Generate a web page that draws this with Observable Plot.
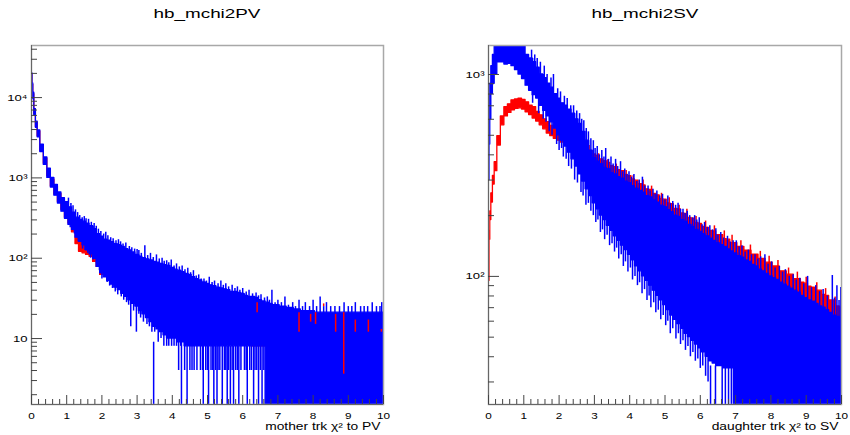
<!DOCTYPE html>
<html><head><meta charset="utf-8">
<script src="https://cdn.jsdelivr.net/npm/d3@7"></script>
<script src="https://cdn.jsdelivr.net/npm/@observablehq/plot@0.6"></script>
<style>
body{margin:0;background:#fff;}
#wrap{position:relative;width:850px;height:435px;font-family:"Liberation Sans",Arial,Helvetica,sans-serif;overflow:hidden;}
.panel{position:absolute;top:0;}
.title{position:absolute;top:7px;font-size:13px;line-height:13px;white-space:nowrap;transform:translateX(-50%) scaleX(1.45);color:#000;}
</style></head><body>
<div id="wrap">
  <div class="panel" id="p1" style="left:0"></div>
  <div class="panel" id="p2" style="left:425px"></div>
  <div class="title" id="t1" style="left:207px"></div>
  <div class="title" id="t2" style="left:645px"></div>
</div>
<script>
// ---------- texts ----------
const titles = ["hb_mchi2PV", "hb_mchi2SV"];
const xTitles = ["mother trk \u03c7\u00b2 to PV", "daughter trk \u03c7\u00b2 to SV"];
const xTicks = [0,1,2,3,4,5,6,7,8,9,10];
const leftYTicks = [10, 100, 1000, 10000];
const leftYLabels = ["10", "10\u00b2", "10\u00b3", "10\u2074"];
const leftYMinor = [2,3,4,5,6,7,8,9,20,30,40,50,60,70,80,90,200,300,400,500,600,700,800,900,2000,3000,4000,5000,6000,7000,8000,9000,20000,30000,40000];
const rightYTicks = [100, 1000];
const rightYLabels = ["10\u00b2", "10\u00b3"];
const rightYMinor = [30,40,50,60,70,80,90,200,300,400,500,600,700,800,900];

// ---------- bin positions ----------
const gridX = [0,0.02,0.04,0.06,0.1,0.15,0.2,
 0.3,0.4,0.5,0.6,0.7,0.8,0.9,1.0,
 1.1,1.2,1.3,1.4,1.5,1.6,1.7,1.8,1.9,2.0,
 2.1,2.2,2.3,2.4,2.5,2.6,2.7,2.8,2.9,3.0,
 3.1,3.2,3.3,3.4,3.5,3.6,3.7,3.8,3.9,4.0,
 4.1,4.2,4.3,4.4,4.5,4.6,4.7,4.8,4.9,5.0,
 5.1,5.2,5.3,5.4,5.5,5.6,5.7,5.8,5.9,6.0,
 6.1,6.2,6.3,6.4,6.5,6.6,6.7,6.8,6.9,7.0,
 7.1,7.2,7.3,7.4,7.5,7.6,7.7,7.8,7.9,8.0,
 8.1,8.2,8.3,8.4,8.5,8.6,8.7,8.8,8.9,9.0,
 9.1,9.2,9.3,9.4,9.5,9.6,9.7,9.8,9.9,10.0];

// ---------- left panel: mother trk chi2 to PV (blue band = local max / min of the bins) ----------
const leftBlueHi = [27000,20000,15000,11500,7200,5000,3900,
 2600,1800,1300,1000,820,660,560,500,
 430,370,320,300,285,270,250,230,200,185,
 170,165,158,150,145,138,130,125,118,110,
 105,100,97,94,90,88,85,82,80,76,
 72,70,67,64,62,58,55,53,50,48,
 46,45,43,42,41,40,38,38,37,36,
 34,33,33,32,30,29,28,27,26,26,
 25,25,24,24,23,23,22,22,22,22,
 21,21,21,21,21,21,21,21,21,21,
 21,21,21,21,21,21,21,21,21,21];
const leftBlueLo = [21000,16000,12000,9500,6000,4200,3200,
 2100,1450,1000,760,600,480,380,310,
 260,225,180,160,145,125,112,98,78,65,
 58,52,47,43,40,36,33,30,27,25,
 22,20,18,16,14,13,12,11,10,10,
 10,9,9,8,8,8,8,8,8,8,
 8,8,8,8,8,8,8,8,8,8,
 8,8,8,8,8,8,1,1,1,1,
 1,1,1,1,1,1,1,1,1,1,
 1,1,1,1,1,1,1,1,1,1,
 1,1,1,1,1,1,1,1,1,1];
// single-bin excursions above / below the band
const leftUpX = [1.05,1.12,1.18,1.25,1.31,1.37,1.44,1.5,1.55,1.62,1.7,1.78,1.84,1.9,1.97,2.05,2.11,2.17,2.25,2.32,2.4,2.47,2.53,2.6,2.68,2.78,2.85,2.93,3.0,3.05,3.12,3.22,3.3,3.38,3.46,3.55,3.63,3.71,3.77,3.84,3.9,3.97,4.05,4.12,4.2,4.28,4.36,4.44,4.52,4.6,4.68,4.75,4.82,4.9,4.97,5.05,5.13,5.2,5.3,5.38,5.45,5.52,5.6,5.7,5.78,5.85,5.92,6.0,6.1,6.18,6.28,6.38,6.45,6.52,6.62,6.7,6.76,6.83,6.92,7.0,7.1,7.2,7.3,7.42,7.5,7.6,7.7,7.78,7.9,8.0,8.1,8.2,8.3,8.38,8.5,8.62,8.75,8.88,9.0,9.1,9.2,9.35,9.45,9.55,9.68,9.8,9.9,9.95];
const leftUpY = [560,480,450,400,370,340,320,330,310,305,280,270,250,230,215,200,210,190,180,175,165,170,160,150,155,140,135,130,128,125,115,143,108,115,102,110,98,100,92,93,88,95,80,85,78,80,72,75,66,70,60,62,55,55,52,58,50,52,48,52,46,48,44,46,42,44,40,42,38,40,36,37,34,35,32,33,30,40,28,30,28,33,26,28,25,30,25,28,25,30,25,33,25,28,25,25,25,28,25,25,28,25,25,25,28,25,25,28];
const leftDownX = [1.1,1.22,1.33,1.45,1.52,1.6,1.68,1.75,1.85,1.93,2.0,2.08,2.15,2.22,2.3,2.38,2.45,2.55,2.62,2.7,2.76,2.82,2.9,2.98,3.05,3.1,3.18,3.28,3.35,3.42,3.5,3.6,3.68,3.76,3.84,3.9,3.98,4.05,4.12,4.18,4.24,4.35,4.45,4.5,4.56,4.62,4.7,4.8,4.86,4.95,5.0,5.1,5.15,5.23,5.3,5.35,5.48,5.52,5.6,5.7,5.8,5.85,5.95,6.05,6.1,6.2,6.25,6.35,6.4,6.5,6.6];
const leftDownY = [240,200,160,130,125,115,100,95,85,70,55,58,50,45,42,38,35,33,30,28,26,14,22,12,20,18,16,15,14,12,12,9,10,8,8,8,8,8,8,4,8,4,8,4,4,4,4,4,4,4,4,4,4,4,4,4,4,4,4,4,4,4,4,4,4,4,4,4,4,4,4];
// empty bins (line drops to the bottom of the frame)
const leftDropX = [3.47,4.26,4.42,4.88,5.03,5.18,5.27,5.42,5.56,5.65,5.74,5.89,6.13,6.31,6.45,6.55];
const leftDropTop = [9,9,8,8,8,8,8,8,8,8,8,8,8,8,8,8];
// red histogram (mostly hidden under blue)
const leftRedX = [0,0.02,0.04,0.06,0.1,0.15,0.2,0.3,0.4,0.5,0.6,0.7,0.8,0.9,1.0,
 1.1,1.2,1.3,1.4,1.5,1.6,1.7,1.8,1.9,2.0,2.5,3,3.5,4,4.5,5,5.5,6,6.5,7,7.5,8,8.5,9,9.5,10];
const leftRedHi = [26000,19500,14500,11000,7000,4900,3800,2500,1750,1250,950,780,630,520,450,
 400,340,290,260,240,220,200,180,165,150,110,80,60,50,40,33,29,25,22,20,18,17,16,15,14,13];
const leftRedLo = [22000,16500,12000,9800,6200,4300,3300,2150,1500,1050,780,620,500,400,320,
 270,210,150,120,115,110,104,90,78,62,50,35,25,18,14,12,10,9,8,8,8,8,8,8,8,8];
const leftRedSpikeX = [6.41,7.6,7.93,8.07,8.3,8.64,8.87,9.2,9.57,9.94];
const leftRedSpikeHi = [28,21,20,21,27,20,21,17,17,13];
const leftRedSpikeLo = [21,12,16,15,25,12,3.6,12,12,12];

// ---------- right panel: daughter trk chi2 to SV ----------
const rightRedHi = [52,105,168,210,258,315,368,
 495,620,690,712,745,752,760,748,
 728,700,690,652,628,600,580,556,542,530,
 522,508,500,490,478,462,448,432,418,402,
 395,380,372,365,352,348,336,332,318,314,
 302,298,286,282,270,268,256,252,242,240,
 230,228,216,215,205,204,195,193,184,182,
 176,174,168,167,160,160,153,152,146,146,
 140,140,134,134,128,128,122,122,117,117,
 112,112,106,106,102,102,97,97,93,92,
 89,88,85,85,81,80,76,76,71,70];
const rightRedLo = [48,95,152,190,232,285,332,
 445,560,620,645,665,675,680,670,
 650,630,605,585,560,535,510,495,480,470,
 460,450,440,428,418,400,385,372,360,348,
 338,328,318,312,305,298,290,282,275,268,
 260,252,246,240,232,226,220,214,208,202,
 196,190,185,180,175,171,166,162,157,152,
 149,146,143,139,136,133,130,127,124,121,
 119,116,113,111,108,106,104,101,99,96,
 94,92,90,87,85,83,81,79,77,75,
 73,71,69,67,65,63,60,58,55,52];
const rightRedUpX = [2.85,3.12,3.38,3.62,3.9,4.1,4.38,4.62,4.9,5.12,5.4,5.62,5.88,6.15,6.4,6.68,6.9,7.15,7.42,7.7,7.95,8.2,8.5,8.75,9.0,9.3,9.55,9.82];
const rightRedUpY = [445,405,378,360,335,315,300,280,258,245,225,215,198,188,178,168,160,150,143,133,126,120,110,105,99,93,87,79];
const rightBlueHi = [300,500,780,900,1100,1250,1400,
 1550,1550,1550,1550,1500,1550,1450,1380,
 1250,1200,1150,1080,1000,960,900,860,800,760,
 720,700,670,640,600,570,520,470,420,385,
 370,360,345,340,325,320,310,305,295,290,
 280,272,265,260,250,246,238,232,224,220,
 213,208,200,197,190,186,180,176,170,166,
 162,158,154,150,146,143,140,136,133,130,
 126,124,120,118,114,112,108,106,103,100,
 98,96,93,91,89,87,85,83,80,78,
 76,75,73,71,70,68,66,64,63,62];
const rightBlueLo = [230,300,450,600,800,900,1000,
 1150,1150,1120,1130,1100,1050,1000,950,
 880,830,790,760,700,660,620,580,540,500,
 470,440,410,380,350,320,295,270,250,230,
 215,200,190,178,168,158,150,142,135,128,
 120,112,106,100,95,90,85,80,76,72,
 68,64,61,58,55,52,50,48,46,44,
 42,40,38,37,36,36,35,35,35,20,
 20,20,20,20,20,20,20,20,20,20,
 20,20,20,20,20,20,20,20,20,20,
 20,20,20,20,20,20,20,20,20,20];
const rightUpX = [1.22,1.31,1.38,1.47,1.58,1.66,1.77,1.84,1.96,2.04,2.15,2.23,2.33,2.41,2.5,2.58,2.64,2.7,2.77,2.83,2.9,2.97,3.02,3.08,3.14,3.21,3.27,3.32,3.4,3.47,3.53,3.6,3.66,3.74,3.8,3.86,3.92,3.98,4.05,4.12,4.2,4.27,4.36,4.43,4.52,4.58,4.66,4.72,4.77,4.85,4.93,5.0,5.08,5.15,5.22,5.3,5.37,5.44,5.51,5.57,5.63,5.7,5.78,5.84,5.9,5.97,6.05,6.12,6.2,6.27,6.35,6.44,6.5,6.58,6.66,6.77,6.85,6.93,7.02,7.1,7.18,7.27,7.36,7.45,7.55,7.63,7.71,7.83,7.92,8.02,8.12,8.24,8.33,8.41,8.52,8.63,8.72,8.82,8.93,9.04,9.15,9.27,9.38,9.48,9.6,9.74,9.8,9.87,9.93,9.98];
const rightUpY = [1320,1250,1200,1150,1100,1000,960,1000,850,820,780,760,700,700,660,640,600,590,540,520,480,470,430,440,400,420,390,430,380,390,360,380,350,370,330,340,320,330,310,320,295,300,310,280,280,265,270,255,265,250,255,240,250,230,235,225,230,215,215,205,210,200,195,200,190,195,180,185,175,178,170,172,160,165,155,158,148,150,150,140,142,132,135,128,128,122,125,128,115,118,110,112,105,108,100,102,96,98,92,100,88,90,84,86,80,101,78,90,76,88];
const rightDownX = [1.25,1.42,1.55,1.63,1.72,1.8,1.93,2.0,2.07,2.12,2.2,2.27,2.35,2.44,2.52,2.62,2.68,2.76,2.83,2.9,2.97,3.04,3.1,3.17,3.23,3.29,3.36,3.43,3.5,3.57,3.63,3.69,3.76,3.82,3.88,3.95,4.02,4.08,4.15,4.22,4.28,4.35,4.42,4.49,4.55,4.6,4.68,4.74,4.81,4.88,4.95,5.02,5.08,5.15,5.22,5.31,5.38,5.44,5.51,5.58,5.65,5.72,5.79,5.86,5.93,6.0,6.07,6.15,6.22];
const rightDownY = [720,640,600,580,520,500,450,420,430,390,380,350,340,300,290,260,250,225,230,210,200,185,190,165,170,152,160,142,145,132,138,122,128,112,118,105,110,96,100,90,93,82,86,76,80,70,74,66,68,61,64,57,60,52,55,49,52,46,48,43,45,40,42,38,39,35,36,32,30];
const rightDropX = [6.29,6.43,6.62,6.71,6.8,6.88];
const rightDropTop = [36,36,36,36,36,36];

// ---------- checks ----------
[[leftBlueHi,"leftBlueHi"],[leftBlueLo,"leftBlueLo"],[rightRedHi,"rightRedHi"],[rightRedLo,"rightRedLo"],[rightBlueHi,"rightBlueHi"],[rightBlueLo,"rightBlueLo"]]
  .forEach(([a,n]) => { if (a.length !== gridX.length) throw new Error(n + " length " + a.length); });
[[leftRedHi,"leftRedHi"],[leftRedLo,"leftRedLo"]].forEach(([a,n]) => { if (a.length !== leftRedX.length) throw new Error(n + " length " + a.length); });
[[leftUpX,leftUpY,"leftUp"],[leftDownX,leftDownY,"leftDown"],[rightUpX,rightUpY,"rightUp"],[rightDownX,rightDownY,"rightDown"],[rightRedUpX,rightRedUpY,"rightRedUp"]]
  .forEach(([a,b,n]) => { if (a.length !== b.length) throw new Error(n + " " + a.length + " vs " + b.length); });

const RED = "#ff0000", BLUE = "#0000ff";
const rows = (xs, hi, lo) => xs.map((x, i) => ({x, hi: hi[i], lo: lo[i]}));
const near = x => d3.minIndex(gridX, g => Math.abs(g - x));
const upRows = (xs, ys, lo) => xs.map((x, i) => ({x, a: lo[near(x)], b: ys[i]}));
const downRows = (xs, ys, hi) => xs.map((x, i) => ({x, a: ys[i], b: hi[near(x)]}));
const xMinor = d3.range(0, 50).map(i => i / 5).filter(v => Math.abs(v - Math.round(v)) > 1e-9);
const FONT = '"Liberation Sans", Arial, Helvetica, sans-serif';
const band = (data, color) => Plot.areaY(data, {x: "x", y1: "lo", y2: "hi", curve: "step", fill: color, stroke: color, strokeWidth: 1.3, clip: true});
const spikes = (data, color) => Plot.ruleX(data, {x: "x", y1: "a", y2: "b", stroke: color, strokeWidth: 1.5, clip: true});

function panel({ml, mr, yDomain, dataMarks, yTicks, yLabels, yMinor, xTitle}) {
  const mt = 45, mb = 31, W = 425, H = 435;
  const fw = W - ml - mr, fh = H - mt - mb;
  const lab = new Map(yTicks.map((t, i) => [t, yLabels[i]]));
  return Plot.plot({
    width: W, height: H, marginLeft: ml, marginRight: mr, marginTop: mt, marginBottom: mb,
    x: {domain: [0, 10], label: null},
    y: {type: "log", domain: yDomain, label: null},
    style: {fontFamily: FONT, background: "white", color: "black", overflow: "visible"},
    marks: [
      ...dataMarks,
      Plot.frame({stroke: "#a8a8a8", strokeWidth: 1.5}),
      Plot.ruleX([0], {stroke: "#666"}),
      Plot.ruleY([yDomain[0]], {stroke: "#666"}),
      Plot.tickX(xTicks, {x: d => d, insetTop: fh - 9, stroke: "#444"}),
      Plot.tickX(xMinor, {x: d => d, insetTop: fh - 5, stroke: "#444"}),
      Plot.tickY(yTicks, {y: d => d, insetRight: fw - 11, stroke: "#444"}),
      Plot.tickY(yMinor, {y: d => d, insetRight: fw - 6, stroke: "#444"}),
      Plot.axisX(xTicks, {tickSize: 0, tickPadding: 8, fontSize: 8.5, tickFormat: d => String(d)}),
      Plot.axisY(yTicks, {tickSize: 0, tickPadding: 4, fontSize: 9.5, tickFormat: d => lab.get(d)}),
      Plot.text([xTitle], {frameAnchor: "bottom-right", dy: 25, dx: -3, textAnchor: "end", fontSize: 10})
    ]
  });
}

function stretchText(svg, s) {
  svg.querySelectorAll("text").forEach(t => {
    const tr = t.getAttribute("transform");
    if (tr) { t.setAttribute("transform", tr + ` scale(${s},1)`); }
    else {
      const x = +(t.getAttribute("x") || 0), y = +(t.getAttribute("y") || 0);
      t.removeAttribute("x"); t.removeAttribute("y");
      t.setAttribute("transform", `translate(${x},${y}) scale(${s},1)`);
    }
  });
}

const leftDomain = [1.51, 44500], rightDomain = [23.2, 1392];
const left = panel({
  ml: 31, mr: 42, yDomain: leftDomain,
  dataMarks: [
    band(rows(leftRedX, leftRedHi, leftRedLo), RED),
    band(rows(gridX, leftBlueHi, leftBlueLo), BLUE),
    spikes([...upRows(leftUpX, leftUpY, leftBlueLo), ...downRows(leftDownX, leftDownY, leftBlueHi)], BLUE),
    spikes(leftDropX.map((x, i) => ({x, a: leftDomain[0] * 0.5, b: leftDropTop[i]})), BLUE),
    spikes(leftRedSpikeX.map((x, i) => ({x, a: leftRedSpikeLo[i], b: leftRedSpikeHi[i]})), RED)
  ],
  yTicks: leftYTicks, yLabels: leftYLabels, yMinor: leftYMinor, xTitle: xTitles[0]
});
const right = panel({
  ml: 63, mr: 9, yDomain: rightDomain,
  dataMarks: [
    band(rows(gridX, rightRedHi, rightRedLo), RED),
    spikes(rightRedUpX.map(x => ({x})).map((d, i) => ({x: d.x, a: rightRedLo[near(d.x)], b: rightRedUpY[i]})), RED),
    band(rows(gridX, rightBlueHi, rightBlueLo), BLUE),
    spikes([...upRows(rightUpX, rightUpY, rightBlueLo), ...downRows(rightDownX, rightDownY, rightBlueHi)], BLUE),
    spikes(rightDropX.map((x, i) => ({x, a: rightDomain[0] * 0.5, b: rightDropTop[i]})), BLUE)
  ],
  yTicks: rightYTicks, yLabels: rightYLabels, yMinor: rightYMinor, xTitle: xTitles[1]
});
stretchText(left, 1.38);
stretchText(right, 1.38);
document.getElementById("p1").appendChild(left);
document.getElementById("p2").appendChild(right);
document.getElementById("t1").textContent = titles[0];
document.getElementById("t2").textContent = titles[1];
</script>
</body></html>
